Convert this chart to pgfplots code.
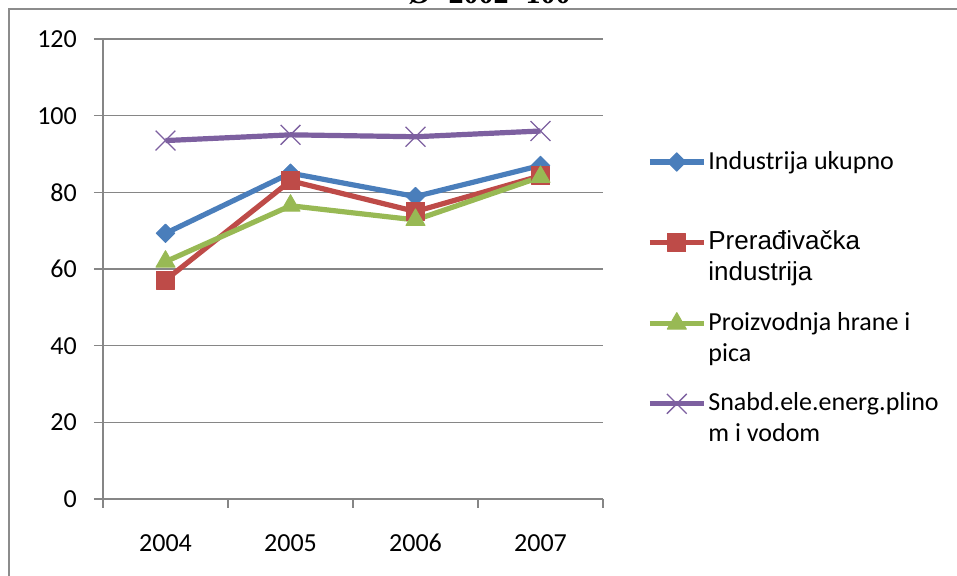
\documentclass[border=0pt]{standalone}
\usepackage{fontspec}
\setmainfont{Carlito}
\newfontfamily\arialf{Liberation Sans}
\newfontfamily\timesf{Liberation Serif}
\usepackage{pgfplots}
\pgfplotsset{compat=1.18}
\definecolor{sblue}{HTML}{4A7EBB}
\definecolor{sred}{HTML}{BE4B48}
\definecolor{sgreen}{HTML}{98B954}
\definecolor{spurple}{HTML}{7D60A0}
\definecolor{axgray}{HTML}{868686}
\definecolor{framegray}{HTML}{8C8C8C}
\begin{document}
\begin{tikzpicture}
\useasboundingbox (-103bp,-77bp) rectangle (854bp,499bp);
\draw[color=framegray, line width=1.5bp] (-94bp,-150bp) -- (-94bp,490bp) -- (900bp,490bp);
\node[anchor=base, font=\timesf\bfseries\fontsize{30bp}{36bp}\selectfont, inner sep=0pt] at (386bp,495bp) {Ø\hspace{0.6em}2002=100};
\begin{axis}[
  scale only axis, width=500bp, height=460bp,
  at={(0,0)}, anchor=south west,
  xmin=-0.5, xmax=3.5, ymin=0, ymax=120,
  xtick={-0.5,0.5,1.5,2.5,3.5}, x tick label as interval,
  xticklabels={2004,2005,2006,2007},
  ytick={0,20,...,120},
  axis x line*=bottom, axis y line*=left,
  axis line style={draw=axgray, line width=1.3bp, -},
  tick style={draw=axgray, line width=1.3bp},
  major tick length=9bp, tick align=outside,
  ymajorgrids, grid style={draw=axgray, line width=1.3bp},
  tick label style={font=\fontsize{26bp}{31bp}\selectfont},
  /pgf/number format/assume math mode=true,
  yticklabel style={anchor=east, inner sep=0pt, xshift=-17bp},
  xticklabel style={anchor=north, inner sep=0pt, yshift=-26bp},
  clip=false,
  line join=round,
  legend image code/.code={\draw[mark repeat=2,mark phase=2,#1] plot coordinates {(0bp,7bp) (27bp,7bp) (54bp,7bp)};},
  legend style={draw=none, fill=none, at={(1.088,0.765)}, anchor=north west,
    inner sep=0pt, nodes={inner sep=0pt}, cells={anchor=base west},
    column sep=2bp, row sep=57bp,
    font=\fontsize{26bp}{31bp}\selectfont},
]
\addplot[color=sblue, line width=5.2bp, mark=square*, mark size=6.5bp, mark options={rotate=45, solid, fill=sblue, line width=1bp}]
  coordinates {(0,69.3) (1,85.0) (2,78.9) (3,87.0)};
\addlegendentry{\parbox[t]{250bp}{\strut Industrija ukupno\\\strut}}
\addplot[color=sred, line width=5.2bp, mark=square*, mark size=9bp, mark options={solid, fill=sred, line width=1bp}]
  coordinates {(0,57.1) (1,83.0) (2,75.0) (3,84.3)};
\addlegendentry{\parbox[t]{250bp}{\arialf\strut Prerađivačka\\\strut industrija}}
\addplot[color=sgreen, line width=5.2bp, mark=triangle*, mark size=11bp, mark options={solid, fill=sgreen, line width=1bp}]
  coordinates {(0,61.9) (1,76.5) (2,72.8) (3,84.0)};
\addlegendentry{\parbox[t]{250bp}{\strut Proizvodnja hrane i\\\strut pica}}
\addplot[color=spurple, line width=5.2bp, mark=x, mark size=14bp, mark options={solid, line width=1.3bp}]
  coordinates {(0,93.5) (1,95.0) (2,94.5) (3,96.0)};
\addlegendentry{\parbox[t]{250bp}{\strut Snabd.ele.energ.plino\\\strut m i vodom}}
\end{axis}
\end{tikzpicture}
\end{document}
